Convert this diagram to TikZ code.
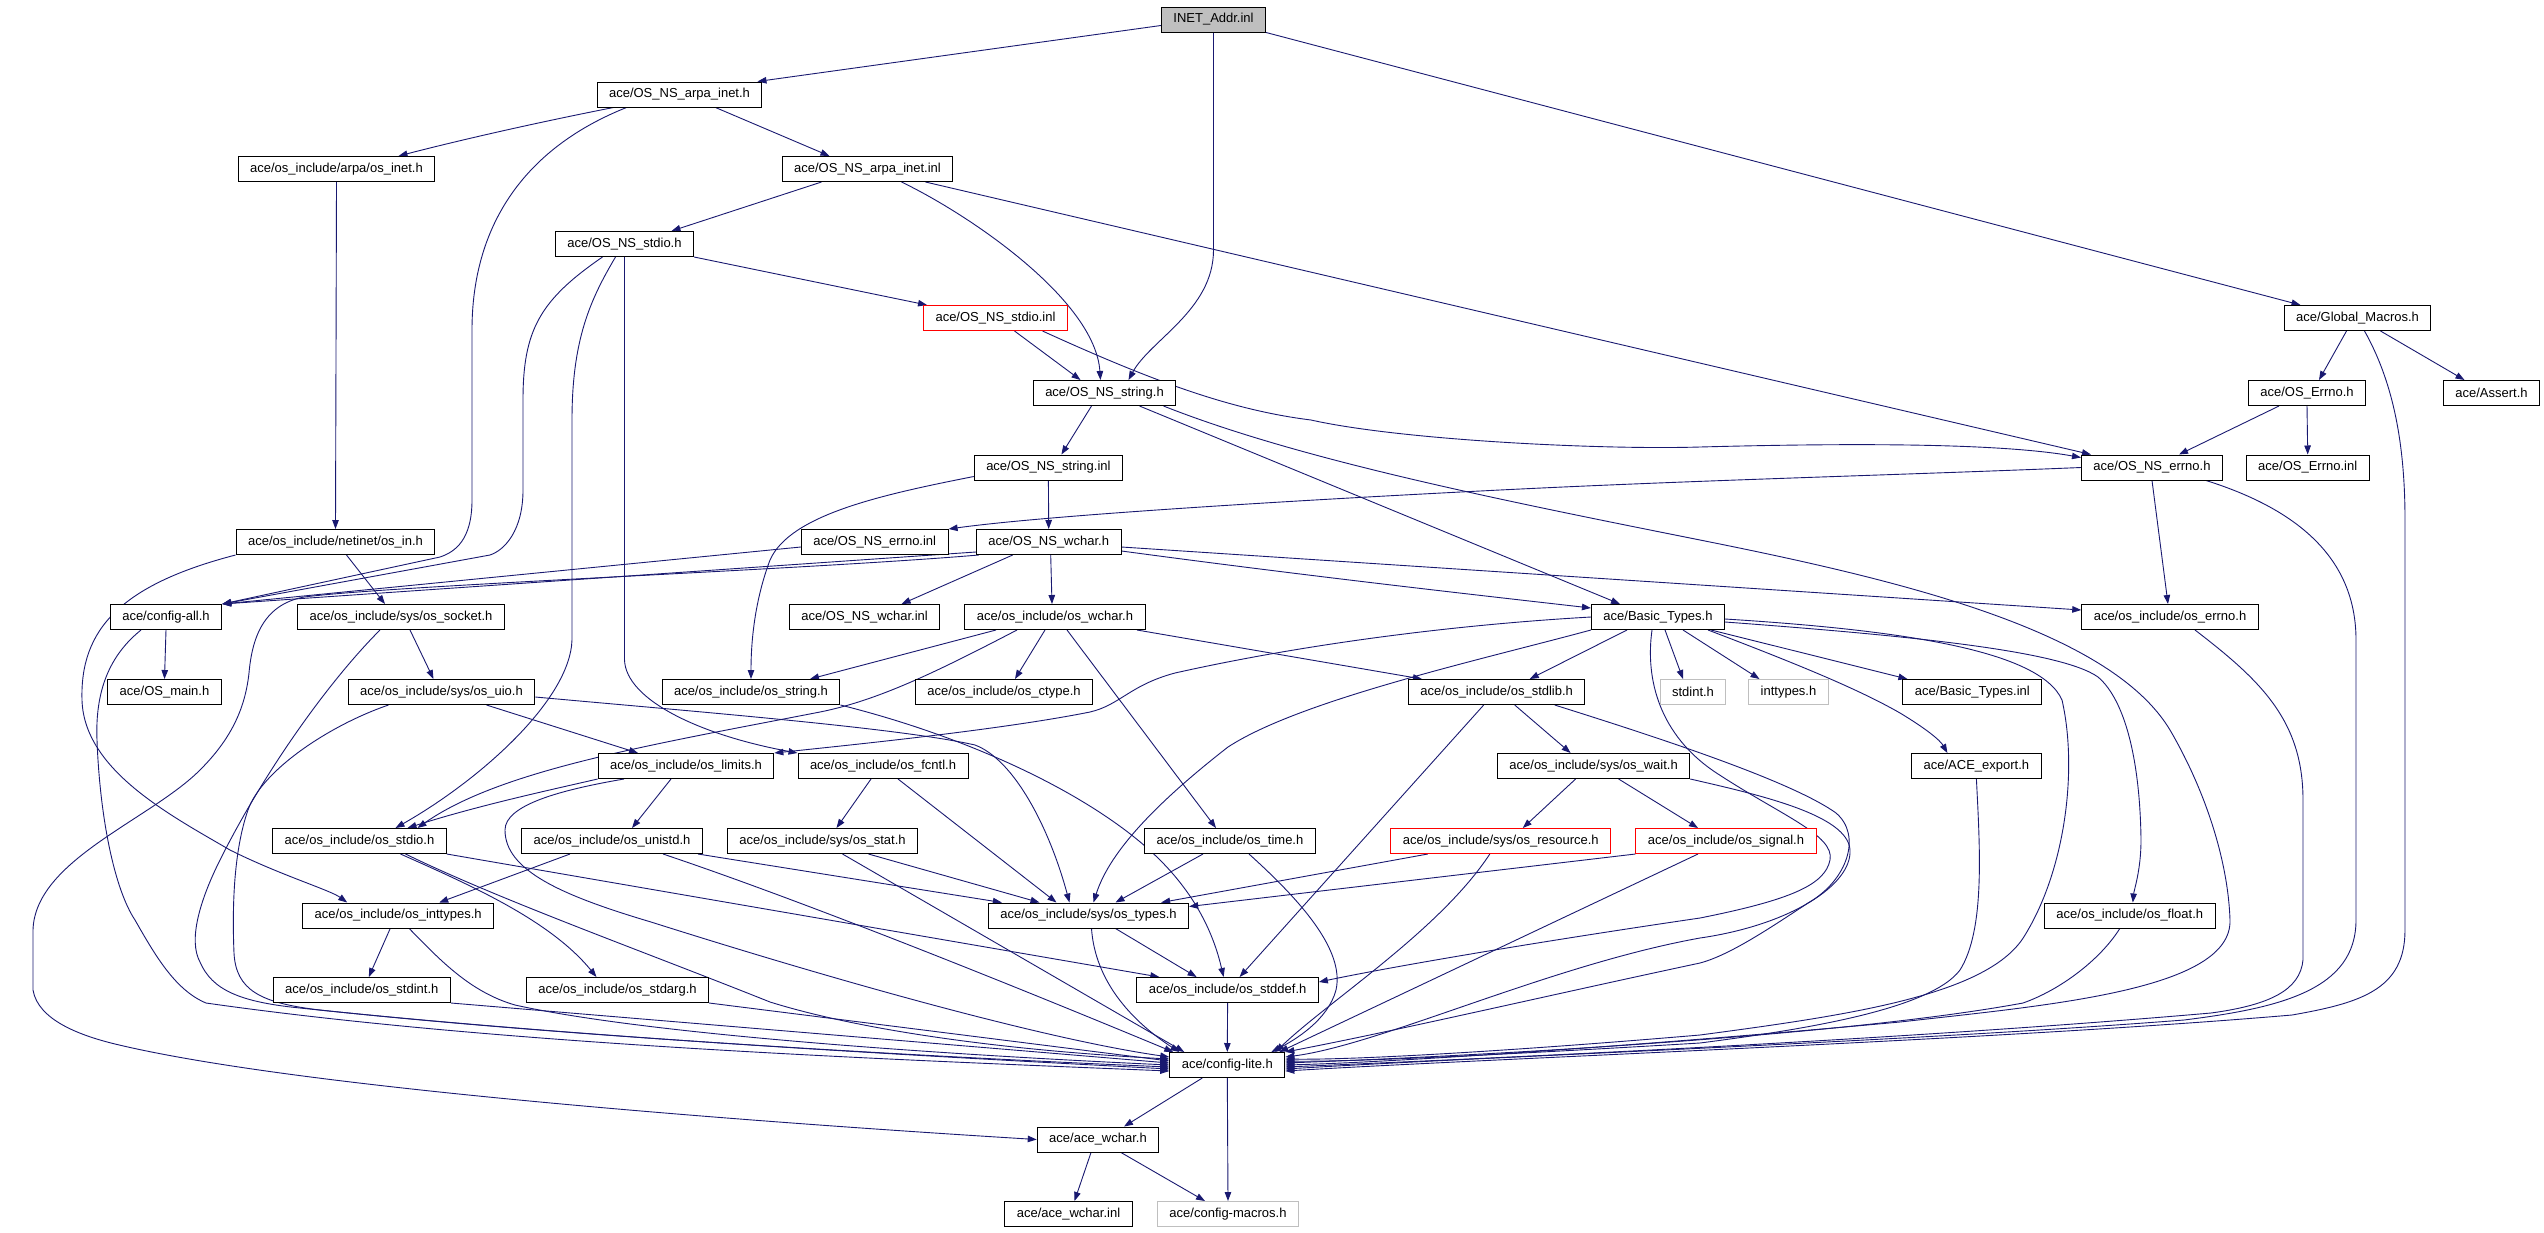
\documentclass[tikz,border=0pt]{standalone}
\usepackage{fontspec}
\setmainfont{Liberation Sans}
\usetikzlibrary{arrows.meta}
\definecolor{edgeblue}{HTML}{191970}
\definecolor{boxgray}{HTML}{BFBFBF}
\pgfdeclarelayer{bg}
\pgfsetlayers{bg,main}
\tikzset{
  box/.style={draw=black, fill=white, line width=1pt, inner xsep=12pt, inner ysep=0pt,
    minimum height=25pt, font=\fontsize{13pt}{15pt}\selectfont},
  redbox/.style={box, draw=red},
  graybox/.style={box, draw=boxgray},
  rootbox/.style={box, fill=boxgray},
  edge/.style={draw=edgeblue, line width=0.9pt, -{Triangle[length=9pt,width=6.5pt]}},
}
\begin{document}
\begin{tikzpicture}[x=1pt,y=-1pt]
\useasboundingbox (0,0) rectangle (2544,1232);
% nodes
\node[rootbox] (root) at (1213.5,19.5) {INET\_Addr.inl};
\node[box] (arpa) at (679.5,94.5) {ace/OS\_NS\_arpa\_inet.h};
\node[box] (inet) at (336.5,169) {ace/os\_include/arpa/os\_inet.h};
\node[box] (arpainl) at (867.5,169) {ace/OS\_NS\_arpa\_inet.inl};
\node[box] (nsstdio) at (624.5,244) {ace/OS\_NS\_stdio.h};
\node[redbox] (stdioinl) at (995.5,318) {ace/OS\_NS\_stdio.inl};
\node[box] (glob) at (2357.5,318) {ace/Global\_Macros.h};
\node[box] (nsstring) at (1104.5,393) {ace/OS\_NS\_string.h};
\node[box] (oserrno) at (2307,393) {ace/OS\_Errno.h};
\node[box] (assert) at (2491.5,393) {ace/Assert.h};
\node[box] (stringinl) at (1048.4,467.5) {ace/OS\_NS\_string.inl};
\node[box] (nserrno) at (2152,467.5) {ace/OS\_NS\_errno.h};
\node[box] (errnoinl2) at (2307.7,467.5) {ace/OS\_Errno.inl};
\node[box] (osin) at (335.5,542) {ace/os\_include/netinet/os\_in.h};
\node[box] (errnoinl) at (874.7,542) {ace/OS\_NS\_errno.inl};
\node[box] (nswchar) at (1048.7,542) {ace/OS\_NS\_wchar.h};
\node[box] (cfgall) at (166,617) {ace/config-all.h};
\node[box] (socket) at (401,617) {ace/os\_include/sys/os\_socket.h};
\node[box] (wcharinl) at (864.6,617) {ace/OS\_NS\_wchar.inl};
\node[box] (wchar) at (1055,617) {ace/os\_include/os\_wchar.h};
\node[box] (basic) at (1658,617) {ace/Basic\_Types.h};
\node[box] (errno) at (2170,617) {ace/os\_include/os\_errno.h};
\node[box] (osmain) at (164.5,692) {ace/OS\_main.h};
\node[box] (uio) at (441.5,692) {ace/os\_include/sys/os\_uio.h};
\node[box] (string) at (751,692) {ace/os\_include/os\_string.h};
\node[box] (ctype) at (1004,692) {ace/os\_include/os\_ctype.h};
\node[box] (stdlib) at (1496.7,692) {ace/os\_include/os\_stdlib.h};
\node[graybox] (stdint) at (1693,692) {stdint.h};
\node[graybox] (inttypes) at (1788.5,692) {inttypes.h};
\node[box] (basicinl) at (1972.4,692) {ace/Basic\_Types.inl};
\node[box] (limits) at (686,766) {ace/os\_include/os\_limits.h};
\node[box] (fcntl) at (883,766) {ace/os\_include/os\_fcntl.h};
\node[box] (wait) at (1593.6,766) {ace/os\_include/sys/os\_wait.h};
\node[box] (export) at (1976.4,766) {ace/ACE\_export.h};
\node[box] (stdio) at (359.5,841) {ace/os\_include/os\_stdio.h};
\node[box] (unistd) at (612,841) {ace/os\_include/os\_unistd.h};
\node[box] (stat) at (822.5,841) {ace/os\_include/sys/os\_stat.h};
\node[box] (time) at (1230,841) {ace/os\_include/os\_time.h};
\node[redbox] (resource) at (1500.8,841) {ace/os\_include/sys/os\_resource.h};
\node[redbox] (signal) at (1726,841) {ace/os\_include/os\_signal.h};
\node[box] (inttypesh) at (398.2,915.5) {ace/os\_include/os\_inttypes.h};
\node[box] (types) at (1088.5,915.5) {ace/os\_include/sys/os\_types.h};
\node[box] (float) at (2129.8,915.5) {ace/os\_include/os\_float.h};
\node[box] (stdintinc) at (361.8,990) {ace/os\_include/os\_stdint.h};
\node[box] (stdarg) at (617.5,990) {ace/os\_include/os\_stdarg.h};
\node[box] (stddef) at (1227.6,990) {ace/os\_include/os\_stddef.h};
\node[box] (lite) at (1227.3,1065) {ace/config-lite.h};
\node[box] (acewchar) at (1098,1139.5) {ace/ace\_wchar.h};
\node[box] (acewcharinl) at (1068.5,1214) {ace/ace\_wchar.inl};
\node[graybox] (macros) at (1228,1214) {ace/config-macros.h};
% edges
\begin{pgfonlayer}{bg}
\draw[edge] ([yshift=-6pt]root.west) -- ([xshift=-5pt]arpa.north east);
\draw[edge] (root.south) -- (1213.5,250) .. controls (1213.5,310) and (1150,340) .. ([xshift=24pt]nsstring.north);
\draw[edge] (root.south east) -- ([xshift=-57pt]glob.north);
\draw[edge] ([xshift=-66pt]arpa.south) .. controls (560,118) and (480,135) .. ([xshift=62pt]inet.north);
\draw[edge] ([xshift=-53pt]arpa.south) .. controls (520,150) and (472,230) .. (472,330) -- (472,500) .. controls (472,540) and (455,552) .. (440,557) -- (cfgall.north east);
\draw[edge] ([xshift=36pt]arpa.south) -- ([xshift=-38pt]arpainl.north);
\draw[edge] (inet.south) -- (osin.north);
\draw[edge] ([xshift=11pt]osin.south) -- ([xshift=-16pt]socket.north);
\draw[edge] (osin.south west) .. controls (120,585) and (80,630) .. (82,700) .. controls (84,770) and (170,815) .. (230,850) .. controls (280,875) and (330,890) .. ([xshift=-51pt]inttypesh.north);
\draw[edge] ([xshift=-46pt]arpainl.south) -- ([xshift=47pt]nsstdio.north);
\draw[edge] ([xshift=34pt]arpainl.south) .. controls (970,215) and (1095,300) .. ([xshift=-4pt]nsstring.north);
\draw[edge] ([xshift=58pt]arpainl.south) -- ([xshift=10pt]nserrno.north west);
\draw[edge] ([xshift=-22pt]nsstdio.south) .. controls (540,300) and (523,330) .. (523,400) -- (523,490) .. controls (523,530) and (505,550) .. (490,555) -- (cfgall.north east);
\draw[edge] ([xshift=-9pt]nsstdio.south) .. controls (590,300) and (572,340) .. (572,420) -- (572,640) .. controls (570,700) and (480,780) .. ([xshift=36pt]stdio.north);
\draw[edge] (nsstdio.south east) -- ([xshift=4pt]stdioinl.north west);
\draw[edge] (nsstdio.south) -- (624.5,660) .. controls (626,700) and (700,735) .. (fcntl.north west);
\draw[edge] ([xshift=19pt]stdioinl.south) -- ([xshift=-24pt]nsstring.north);
\draw[edge] ([xshift=47pt]stdioinl.south) .. controls (1150,380) and (1230,410) .. (1311,420) .. controls (1400,440) and (1600,450) .. (1700,447) .. controls (1850,443) and (2000,443) .. ([yshift=-3pt]nserrno.north west);
\draw[edge] ([xshift=-13pt]nsstring.south) -- ([xshift=13pt]stringinl.north);
\draw[edge] ([xshift=35pt]nsstring.south) -- ([xshift=-38pt]basic.north);
\draw[edge] ([xshift=59pt]nsstring.south) .. controls (1300,460) and (1500,500) .. (1700,540) .. controls (1900,580) and (2110,630) .. (2170,730) .. controls (2205,790) and (2228,860) .. (2230,920) .. controls (2232,990) and (2050,1005) .. (1900,1022) .. controls (1650,1045) and (1400,1062) .. (lite.east);
\draw[edge] ([xshift=-11pt]glob.south) -- ([xshift=12pt]oserrno.north);
\draw[edge] ([xshift=23pt]glob.south) -- ([xshift=-27pt]assert.north);
\draw[edge] ([xshift=7pt]glob.south) .. controls (2392,380) and (2405,440) .. (2405,520) -- (2405,930) .. controls (2405,990) and (2360,1003) .. (2292,1015) .. controls (2000,1040) and (1500,1058) .. ([yshift=-6pt]lite.east);
\draw[edge] ([xshift=-28pt]oserrno.south) -- ([xshift=27pt]nserrno.north);
\draw[edge] (oserrno.south) -- (errnoinl2.north);
\draw[edge] (nserrno.west) .. controls (1900,475) and (1700,480) .. (1500,490) .. controls (1300,500) and (1050,515) .. (errnoinl.north east);
\draw[edge] (nserrno.south) -- ([xshift=-2pt]errno.north);
\draw[edge] ([xshift=54pt]nserrno.south) .. controls (2300,510) and (2356,560) .. (2356,640) -- (2356,920) .. controls (2356,990) and (2280,1008) .. (2184,1020) .. controls (1900,1042) and (1500,1056) .. ([yshift=-4pt]lite.east);
\draw[edge] ([yshift=-5pt]errnoinl.west) -- (cfgall.north east);
\draw[edge] (stringinl.south) -- (nswchar.north);
\draw[edge] ([yshift=-9pt]stringinl.west) .. controls (880,495) and (790,515) .. (770,560) .. controls (755,600) and (751,640) .. (string.north);
\draw[edge] ([yshift=-10pt]nswchar.west) -- (cfgall.north east);
\draw[edge] ([xshift=3pt]nswchar.south west) .. controls (800,570) and (400,585) .. (304,597) .. controls (262,605) and (252,640) .. (249,673) .. controls (245,710) and (230,740) .. (200,770) .. controls (150,820) and (35,860) .. (33,930) -- (33,990) .. controls (38,1020) and (80,1035) .. (111,1043) .. controls (300,1090) and (800,1125) .. (acewchar.west);
\draw[edge] ([xshift=-36pt]nswchar.south) -- ([xshift=37pt]wcharinl.north);
\draw[edge] ([xshift=2pt]nswchar.south) -- ([xshift=-3pt]wchar.north);
\draw[edge] ([yshift=-9pt]nswchar.east) .. controls (1300,575) and (1450,592) .. ([yshift=9pt]basic.west);
\draw[edge] ([yshift=-5pt]nswchar.east) -- ([yshift=7pt]errno.west);
\draw[edge] ([xshift=-59pt]wchar.south) -- ([xshift=59pt]string.north);
\draw[edge] ([xshift=-38pt]wchar.south) .. controls (940,670) and (880,700) .. (820,712) .. controls (650,745) and (500,770) .. ([xshift=58pt]stdio.north);
\draw[edge] ([xshift=-10pt]wchar.south) -- ([xshift=11pt]ctype.north);
\draw[edge] ([xshift=12pt]wchar.south) -- ([xshift=-14pt]time.north);
\draw[edge] ([xshift=82pt]wchar.south) -- ([xshift=14pt]stdlib.north west);
\draw[edge] (basic.west) .. controls (1450,625) and (1300,645) .. (1175,673) .. controls (1130,685) and (1120,705) .. (1090,712) .. controls (1000,730) and (850,745) .. (limits.north east);
\draw[edge] (basic.south west) .. controls (1480,660) and (1300,700) .. (1228,747) .. controls (1160,800) and (1110,850) .. ([xshift=5pt]types.north);
\draw[edge] ([xshift=-31pt]basic.south) -- ([xshift=33pt]stdlib.north);
\draw[edge] ([xshift=7pt]basic.south) -- ([xshift=-10pt]stdint.north);
\draw[edge] ([xshift=25pt]basic.south) -- ([xshift=-29pt]inttypes.north);
\draw[edge] ([xshift=53pt]basic.south) -- ([xshift=-65pt]basicinl.north);
\draw[edge] ([xshift=50pt]basic.south) .. controls (1800,665) and (1860,690) .. (1900,713) .. controls (1925,728) and (1940,740) .. ([xshift=-29pt]export.north);
\draw[edge] ([yshift=-5pt]basic.east) .. controls (1900,635) and (2060,650) .. (2098,677) .. controls (2125,700) and (2140,760) .. (2141,840) .. controls (2141,870) and (2134,890) .. ([xshift=3pt]float.north);
\draw[edge] ([yshift=-2pt]basic.east) .. controls (1900,630) and (2040,650) .. (2062,700) .. controls (2078,770) and (2065,870) .. (2025,935) .. controls (1990,995) and (1850,1015) .. (1700,1035) .. controls (1500,1052) and (1350,1060) .. ([yshift=6pt]lite.east);
\draw[edge] ([xshift=-6pt]basic.south) .. controls (1645,680) and (1660,735) .. (1715,772) .. controls (1780,815) and (1835,835) .. (1830,860) .. controls (1825,885) and (1790,900) .. (1700,918) .. controls (1550,940) and (1400,965) .. ([yshift=8pt]stddef.east);
\draw[edge] ([xshift=18pt]stdlib.south) -- ([xshift=-23pt]wait.north);
\draw[edge] ([xshift=-13pt]stdlib.south) -- ([xshift=12pt]stddef.north);
\draw[edge] ([xshift=58pt]stdlib.south) .. controls (1650,735) and (1790,780) .. (1836,813) .. controls (1862,835) and (1848,880) .. (1808,903) .. controls (1770,928) and (1730,955) .. (1700,963) .. controls (1550,995) and (1400,1030) .. (lite.north east);
\draw[edge] ([xshift=-18pt]wait.south) -- ([xshift=22pt]resource.north);
\draw[edge] ([xshift=25pt]wait.south) -- ([xshift=-28pt]signal.north);
\draw[edge] (wait.south east) .. controls (1760,795) and (1848,815) .. (1850,850) .. controls (1852,885) and (1790,925) .. (1700,938) .. controls (1550,965) and (1380,1045) .. ([yshift=8pt]lite.east);
\draw[edge] ([xshift=-73pt]resource.south) -- ([xshift=-28pt]types.north east);
\draw[edge] ([xshift=-11pt]resource.south) .. controls (1440,930) and (1330,1000) .. ([xshift=-10pt]lite.north east);
\draw[edge] (signal.south west) -- ([yshift=9pt]types.east);
\draw[edge] ([xshift=-28pt]signal.south) -- ([xshift=-6pt]lite.north east);
\draw[edge] ([xshift=-27pt]time.south) -- ([xshift=27pt]types.north);
\draw[edge] ([xshift=19pt]time.south) .. controls (1300,900) and (1345,950) .. (1336,990) .. controls (1328,1020) and (1295,1040) .. ([xshift=-14pt]lite.north east);
\draw[edge] ([xshift=-12pt]fcntl.south) -- ([xshift=14pt]stat.north);
\draw[edge] ([xshift=15pt]fcntl.south) -- ([xshift=-32pt]types.north);
\draw[edge] ([xshift=46pt]stat.south) -- ([xshift=-49pt]types.north);
\draw[edge] ([xshift=20pt]stat.south) -- ([xshift=15pt]lite.north west);
\draw[edge] ([xshift=-42pt]unistd.south) -- ([xshift=41pt]inttypesh.north);
\draw[edge] ([xshift=-5pt]unistd.south east) -- ([xshift=14pt]types.north west);
\draw[edge] ([xshift=51pt]unistd.south) .. controls (800,900) and (1000,980) .. ([xshift=4pt]lite.north west);
\draw[edge] (limits.south west) .. controls (550,790) and (480,805) .. ([xshift=48pt]stdio.north);
\draw[edge] ([xshift=-62pt]limits.south) .. controls (560,790) and (505,805) .. (505,830) .. controls (505,870) and (560,895) .. (651,922) .. controls (850,985) and (1050,1040) .. ([yshift=8pt]lite.west);
\draw[edge] ([xshift=-15pt]limits.south) -- ([xshift=20pt]unistd.north);
\draw[edge] ([xshift=45pt]uio.south) -- ([xshift=-48pt]limits.north);
\draw[edge] ([yshift=-5pt]uio.east) .. controls (700,712) and (900,728) .. (975,745) .. controls (1015,760) and (1050,830) .. ([xshift=-19pt]types.north);
\draw[edge] ([xshift=-53pt]uio.south) .. controls (330,725) and (262,770) .. (248,810) .. controls (234,850) and (232,905) .. (234,953) .. controls (236,990) and (260,1003) .. (320,1010) .. controls (600,1040) and (1000,1060) .. ([yshift=-2pt]lite.west);
\draw[edge] ([xshift=9pt]socket.south) -- ([xshift=-8pt]uio.north);
\draw[edge] ([xshift=-21pt]socket.south) .. controls (330,680) and (265,770) .. (220,860) .. controls (200,900) and (188,940) .. (200,962) .. controls (212,990) and (240,1002) .. (300,1008) .. controls (600,1040) and (1000,1060) .. ([yshift=-4pt]lite.west);
\draw[edge] (cfgall.south) -- (osmain.north);
\draw[edge] ([xshift=-25pt]cfgall.south) .. controls (110,655) and (95,690) .. (97,740) .. controls (100,820) and (115,890) .. (135,920) .. controls (155,955) and (175,990) .. (206,1003) .. controls (500,1045) and (900,1060) .. ([yshift=-6pt]lite.west);
\draw[edge] ([xshift=41pt]stdio.south) .. controls (470,885) and (550,920) .. ([xshift=-21pt]stdarg.north);
\draw[edge] ([xshift=46pt]stdio.south) .. controls (500,900) and (640,950) .. (770,1002) .. controls (860,1030) and (1000,1050) .. ([yshift=6pt]lite.west);
\draw[edge] (stdio.south east) -- ([xshift=23pt]stddef.north west);
\draw[edge] ([xshift=-8pt]inttypesh.south) -- ([xshift=7pt]stdintinc.north);
\draw[edge] ([xshift=11pt]inttypesh.south) .. controls (440,960) and (470,992) .. (515,1005) .. controls (650,1035) and (950,1055) .. (lite.west);
\draw[edge] (stdintinc.south east) -- ([yshift=2pt]lite.west);
\draw[edge] (stdarg.south east) -- ([yshift=4pt]lite.west);
\draw[edge] ([xshift=27pt]types.south) -- ([xshift=-31pt]stddef.north);
\draw[edge] ([xshift=3pt]types.south) .. controls (1095,980) and (1130,1020) .. ([xshift=10pt]lite.north west);
\draw[edge] (stddef.south) -- (lite.north);
\draw[edge] (string.south east) .. controls (980,740) and (1100,800) .. (1160,860) .. controls (1200,900) and (1215,940) .. ([xshift=-4pt]stddef.north);
\draw[edge] ([xshift=25pt]errno.south) .. controls (2260,680) and (2303,720) .. (2303,800) -- (2303,960) .. controls (2300,990) and (2270,1005) .. (2211,1013) .. controls (1900,1040) and (1500,1058) .. ([yshift=-2pt]lite.east);
\draw[edge] (export.south) .. controls (1980,850) and (1985,930) .. (1960,970) .. controls (1930,1010) and (1800,1030) .. (1700,1043) .. controls (1500,1055) and (1350,1062) .. ([yshift=4pt]lite.east);
\draw[edge] ([xshift=-10pt]float.south) .. controls (2100,960) and (2060,990) .. (2023,1003) .. controls (1850,1035) and (1500,1055) .. ([yshift=2pt]lite.east);
\draw[edge] ([xshift=-25pt]lite.south) -- ([xshift=26pt]acewchar.north);
\draw[edge] (lite.south) -- (macros.north);
\draw[edge] ([xshift=-7pt]acewchar.south) -- ([xshift=6pt]acewcharinl.north);
\draw[edge] ([xshift=23pt]acewchar.south) -- ([xshift=-23pt]macros.north);
\end{pgfonlayer}
\end{tikzpicture}
\end{document}
